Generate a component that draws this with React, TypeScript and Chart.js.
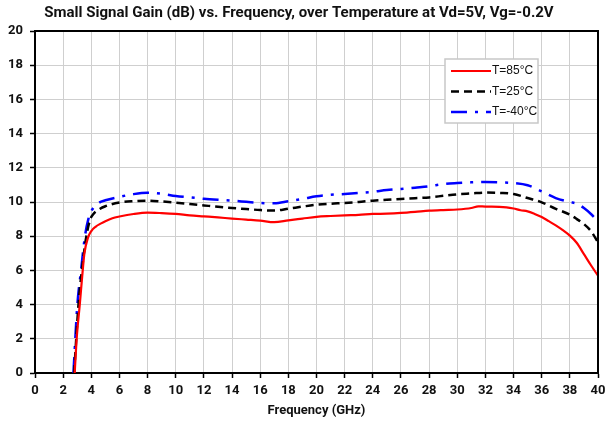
import React, { useEffect, useRef } from "react";
import { Chart, registerables } from "chart.js";

Chart.register(...registerables);

const titleText = "Small Signal Gain (dB) vs. Frequency, over Temperature at Vd=5V, Vg=-0.2V";
const xTitle = "Frequency (GHz)";
const seriesLabels = ["T=85°C", "T=25°C", "T=-40°C"];

const freq85 = [2.82, 2.96, 3.18, 3.39, 3.51, 3.76, 4.0, 4.3, 4.7, 5, 5.5, 6, 7, 8, 9, 10, 11, 12, 13, 14, 15, 16, 17, 18, 19, 20, 21, 22, 23, 24, 25, 26, 27, 28, 29, 30, 31, 31.5, 32, 33, 33.5, 34, 34.5, 35, 35.5, 36, 36.5, 37, 37.5, 38, 38.5, 39, 39.5, 40];
const gain85 = [0, 2, 4, 6, 7, 7.9, 8.3, 8.55, 8.75, 8.88, 9.05, 9.15, 9.3, 9.38, 9.35, 9.3, 9.22, 9.16, 9.1, 9.03, 8.97, 8.91, 8.82, 8.93, 9.03, 9.13, 9.18, 9.22, 9.25, 9.3, 9.32, 9.36, 9.42, 9.49, 9.53, 9.56, 9.65, 9.75, 9.73, 9.72, 9.69, 9.62, 9.52, 9.45, 9.3, 9.12, 8.88, 8.63, 8.35, 8.03, 7.6, 6.95, 6.3, 5.69];

const freq25 = [2.78, 3.09, 3.33, 3.65, 3.91, 4.15, 4.42, 5, 6, 7, 8, 9, 10, 11, 12, 13, 14, 15, 16, 17, 18, 19, 20, 21, 22, 23, 24, 25, 26, 27, 28, 29, 30, 31, 32, 33, 34, 35, 36, 37, 38, 38.5, 39, 39.5, 40];
const gain25 = [0, 4, 6, 8, 8.95, 9.3, 9.5, 9.75, 9.97, 10.05, 10.08, 10.03, 9.96, 9.88, 9.8, 9.72, 9.65, 9.59, 9.53, 9.5, 9.61, 9.73, 9.84, 9.9, 9.94, 10.0, 10.08, 10.13, 10.18, 10.22, 10.27, 10.36, 10.45, 10.5, 10.55, 10.53, 10.47, 10.23, 9.98, 9.6, 9.26, 9.0, 8.71, 8.3, 7.64];

const freqM40 = [2.73, 3.01, 3.27, 3.55, 3.79, 4.02, 4.54, 5, 6, 7, 8, 9, 10, 11, 12, 13, 14, 15, 16, 17, 18, 19, 20, 21, 22, 23, 24, 25, 26, 27, 28, 29, 30, 31, 32, 33, 34, 35, 36, 37, 38, 38.5, 39, 39.5, 40];
const gainM40 = [0, 4, 6, 8, 9, 9.5, 9.95, 10.1, 10.3, 10.46, 10.54, 10.48, 10.35, 10.27, 10.19, 10.13, 10.08, 10.01, 9.94, 9.92, 10.04, 10.18, 10.33, 10.42, 10.47, 10.53, 10.6, 10.7, 10.76, 10.84, 10.92, 11.05, 11.11, 11.15, 11.17, 11.15, 11.11, 10.98, 10.62, 10.23, 10.0, 9.9, 9.65, 9.3, 8.87];

const xMin = 0, xMax = 40, xStep = 2;
const yMin = 0, yMax = 20, yStep = 2;

const toPts = (xs: number[], ys: number[]) => xs.map((x, i) => ({ x, y: ys[i] }));

const framePlugin = {
  id: "frame",
  afterDatasetsDraw(chart: any) {
    const { ctx, chartArea: a } = chart;
    ctx.save();
    ctx.strokeStyle = "#000";
    ctx.lineWidth = 2;
    ctx.beginPath();
    ctx.moveTo(a.left, a.top);
    ctx.lineTo(a.right, a.top);
    ctx.lineTo(a.right, a.bottom);
    ctx.stroke();
    ctx.restore();
  },
};

const legendPlugin = {
  id: "boxLegend",
  afterDraw(chart: any) {
    const { ctx, chartArea: a } = chart;
    const bx = a.left + 410, by = a.top + 28, bw = 93, bh = 64;
    ctx.save();
    ctx.fillStyle = "#fff";
    ctx.fillRect(bx, by, bw, bh);
    ctx.strokeStyle = "#c8c8c8";
    ctx.lineWidth = 1.5;
    ctx.strokeRect(bx, by, bw, bh);
    chart.data.datasets.forEach((ds: any, i: number) => {
      const yy = by + 12 + i * 20.5;
      ctx.beginPath();
      ctx.strokeStyle = ds.borderColor;
      ctx.lineWidth = ds.borderWidth;
      ctx.setLineDash(ds.borderDash || []);
      ctx.moveTo(bx + 6, yy);
      ctx.lineTo(bx + 46, yy);
      ctx.stroke();
      ctx.setLineDash([]);
      ctx.fillStyle = "#111";
      ctx.font = "12px 'Liberation Sans', Arial, sans-serif";
      ctx.textBaseline = "middle";
      ctx.textAlign = "left";
      ctx.fillText(ds.label, bx + 47, yy);
    });
    ctx.restore();
  },
};

export default function App() {
  const ref = useRef<HTMLCanvasElement | null>(null);
  useEffect(() => {
    if (!ref.current) return;
    Chart.defaults.font.family = "Roboto";
    const chart = new Chart(ref.current, {
      type: "line",
      data: {
        datasets: [
          {
            label: seriesLabels[0],
            data: toPts(freq85, gain85),
            borderColor: "#ff0000",
            borderWidth: 2.2,
            pointRadius: 0,
            cubicInterpolationMode: "monotone",
          },
          {
            label: seriesLabels[1],
            data: toPts(freq25, gain25),
            borderColor: "#000000",
            borderWidth: 2.5,
            borderDash: [8, 5],
            pointRadius: 0,
            cubicInterpolationMode: "monotone",
          },
          {
            label: seriesLabels[2],
            data: toPts(freqM40, gainM40),
            borderColor: "#0000ff",
            borderWidth: 2.5,
            borderDash: [16, 8, 3, 8],
            pointRadius: 0,
            cubicInterpolationMode: "monotone",
          },
        ],
      },
      options: {
        responsive: false,
        animation: false,
        layout: { padding: { left: 0, right: 9, top: 0, bottom: 0 } },
        plugins: {
          legend: { display: false },
          tooltip: { enabled: false },
          title: {
            display: true,
            text: titleText,
            color: "#111",
            font: { family: "Roboto", size: 15, weight: "bold" },
            padding: { top: 4, bottom: 9 },
          },
        },
        scales: {
          x: {
            type: "linear",
            min: xMin,
            max: xMax,
            afterFit: (s: any) => { s.height = 50; s.paddingRight = 0; s.paddingLeft = 0; },
            ticks: {
              stepSize: xStep,
              color: "#111",
              padding: 5,
              font: { family: "Roboto", size: 13, weight: "bold" },
              maxRotation: 0,
              autoSkip: false,
            },
            grid: { color: "#cfcfcf", lineWidth: 1, tickLength: 5, tickColor: "#000", tickWidth: 1.5 },
            border: { color: "#000", width: 2 },
            title: {
              display: true,
              text: xTitle,
              color: "#111",
              font: { family: "Roboto", size: 13, weight: "bold" },
              padding: { top: 4, bottom: 4 },
            },
          },
          y: {
            type: "linear",
            min: yMin,
            max: yMax,
            afterFit: (s: any) => { s.width = 35; s.paddingTop = 0; s.paddingBottom = 0; },
            ticks: {
              stepSize: yStep,
              color: "#111",
              padding: 7,
              font: { family: "Roboto", size: 13, weight: "bold" },
            },
            grid: { color: "#cfcfcf", lineWidth: 1, tickLength: 5, tickColor: "#000", tickWidth: 1.5 },
            border: { color: "#000", width: 2 },
          },
        },
      },
      plugins: [framePlugin, legendPlugin],
    } as any);
    return () => chart.destroy();
  }, []);
  return (
    <div style={{ position: "fixed", left: 0, top: 0, width: 607, height: 423, background: "#fff" }}>
      <canvas ref={ref} width={607} height={423} />
    </div>
  );
}
